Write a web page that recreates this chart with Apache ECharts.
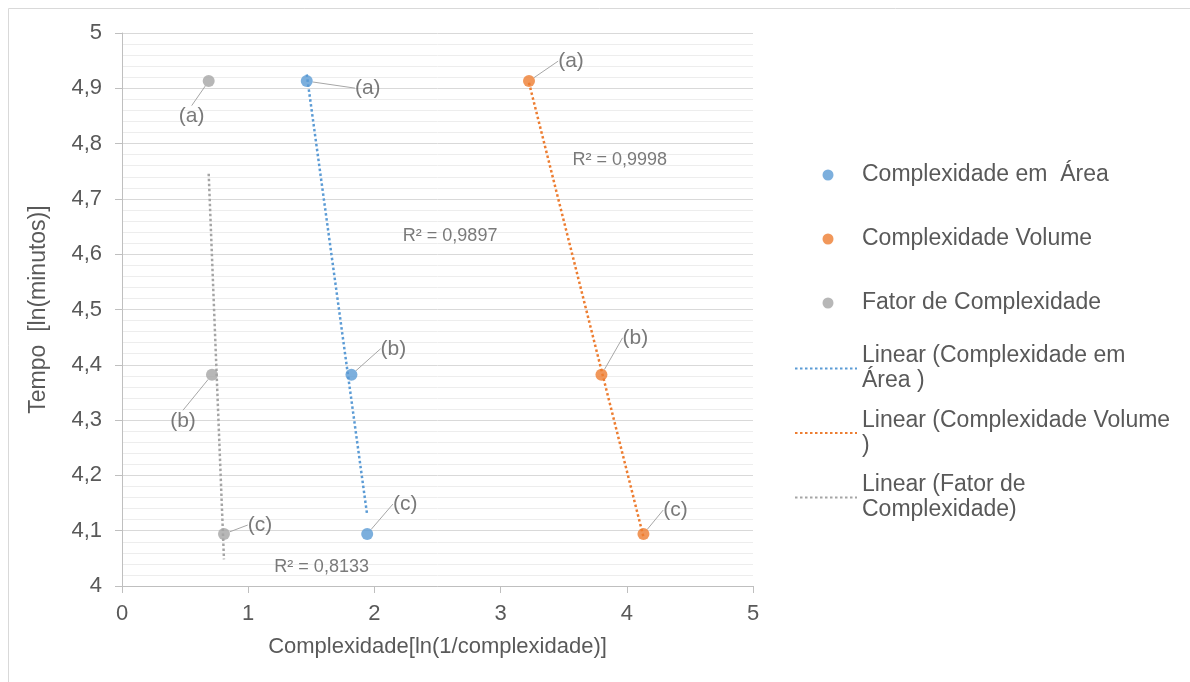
<!DOCTYPE html>
<html>
<head>
    <meta charset="utf-8">
    <title>Tempo x Complexidade</title>
    <script src="https://cdn.jsdelivr.net/npm/echarts@6/dist/echarts.min.js"></script>
    <style type="text/css">
        html, body { margin: 0; padding: 0; background: #fff; }
        #chart { width: 1190px; height: 682px; }
    </style>
</head>
<body>
    <div id="chart"></div>

    <script type="text/javascript">
        // data
        var pointTags = ['(a)', '(b)', '(c)'];
        var tempo = [4.913, 4.382, 4.094];
        var areaX = [1.464, 1.818, 1.943];
        var volumeX = [3.225, 3.799, 4.132];
        var fatorX = [0.687, 0.713, 0.808];
        var r2Values = ['0,9897', '0,9998', '0,8133'];

        // where the R² notes sit (data coords) and how far each tag is pushed (px)
        var r2At = [[2.60, 4.632], [3.944, 4.770], [1.582, 4.034]];
        var tagNudge = {
            area: [[61, 7], [42, -26], [38, -30]],
            volume: [[42, -20], [34, -37], [32, -24]],
            fator: [[-17, 35], [-29, 46], [36, -9]]
        };

        var FONT = "'Liberation Sans', Arial, sans-serif";
        var TXT = '#595959';

        function pairs(xs, ys) {
            var out = [];
            for (var i = 0; i < xs.length; i++) out.push([xs[i], ys[i]]);
            return out;
        }

        // least squares line over the x range of the points, like the Excel trendline
        function trend(xs, ys) {
            var n = xs.length, mx = 0, my = 0, sxy = 0, sxx = 0;
            for (var i = 0; i < n; i++) { mx += xs[i]; my += ys[i]; }
            mx /= n; my /= n;
            for (var j = 0; j < n; j++) {
                sxy += (xs[j] - mx) * (ys[j] - my);
                sxx += (xs[j] - mx) * (xs[j] - mx);
            }
            var b = sxy / sxx, a = my - b * mx;
            var lo = Math.min.apply(null, xs), hi = Math.max.apply(null, xs);
            return [[lo, a + b * lo], [hi, a + b * hi]];
        }

        function pointSeries(name, xs, color, nudge) {
            return {
                name: name,
                type: 'scatter',
                z: 5,
                symbolSize: 12,
                itemStyle: { color: color },
                data: pairs(xs, tempo),
                label: {
                    show: true,
                    position: 'inside',
                    formatter: function (p) { return pointTags[p.dataIndex]; },
                    color: TXT,
                    fontSize: 21,
                    fontFamily: FONT
                },
                labelLine: { show: true, lineStyle: { color: '#A6A6A6', width: 1 } },
                labelLayout: function (p) {
                    var d = nudge[p.dataIndex];
                    return { dx: d[0], dy: d[1] };
                }
            };
        }

        function trendSeries(name, xs, color) {
            return {
                name: name,
                type: 'line',
                z: 3,
                symbol: 'none',
                silent: true,
                lineStyle: { color: color, width: 2.5, type: [2.5, 2.5] },
                itemStyle: { color: color },
                data: trend(xs, tempo)
            };
        }

        var lineNames = {
            'Linear (Complexidade em Área )': 'Linear (Complexidade em\nÁrea )',
            'Linear (Complexidade Volume )': 'Linear (Complexidade Volume\n)',
            'Linear (Fator de Complexidade)': 'Linear (Fator de\nComplexidade)'
        };

        var chart = echarts.init(document.getElementById('chart'));

        var option = {
            animation: false,
            textStyle: { fontFamily: FONT, color: TXT },
            graphic: [{
                type: 'rect',
                shape: { x: 8.5, y: 8.5, width: 1200, height: 700 },
                style: { fill: 'none', stroke: '#D9D9D9', lineWidth: 1 },
                silent: true
            }],
            grid: { left: 122, right: 437, top: 33, bottom: 96 },
            legend: [{
                orient: 'vertical',
                left: 822.5,
                top: 163,
                padding: 0,
                itemWidth: 58,
                itemHeight: 11,
                itemGap: 40,
                icon: 'circle',
                symbolKeepAspect: true,
                selectedMode: false,
                textStyle: { fontSize: 23, lineHeight: 24, color: TXT, fontFamily: FONT },
                data: ['Complexidade em  Área', 'Complexidade Volume', 'Fator de Complexidade']
            }, {
                orient: 'vertical',
                left: 794,
                top: 331,
                padding: 0,
                itemWidth: 62,
                itemHeight: 14,
                itemGap: -10.5,
                itemStyle: { opacity: 0 },
                selectedMode: false,
                formatter: function (n) { return lineNames[n]; },
                textStyle: { fontSize: 23, lineHeight: 25, color: TXT, fontFamily: FONT, padding: [25, 0, 0, 0] },
                data: Object.keys(lineNames)
            }],
            xAxis: {
                type: 'value',
                min: 0,
                max: 5,
                interval: 1,
                name: 'Complexidade[ln(1/complexidade)]',
                nameLocation: 'middle',
                nameGap: 50,
                nameTextStyle: { fontSize: 22, color: TXT, fontFamily: FONT },
                axisLine: { show: true, lineStyle: { color: '#BFBFBF' } },
                axisTick: { show: true, length: 7, lineStyle: { color: '#BFBFBF' } },
                axisLabel: { fontSize: 22, color: TXT, margin: 17 },
                splitLine: { show: false }
            },
            yAxis: {
                type: 'value',
                min: 4,
                max: 5,
                interval: 0.1,
                name: 'Tempo  [ln(minutos)]',
                nameLocation: 'middle',
                nameRotate: 90,
                nameGap: 72,
                nameTextStyle: { fontSize: 23, color: TXT, fontFamily: FONT },
                axisLine: { show: true, lineStyle: { color: '#BFBFBF' } },
                axisTick: { show: true, length: 7, lineStyle: { color: '#BFBFBF' } },
                axisLabel: {
                    fontSize: 22,
                    color: TXT,
                    margin: 20,
                    formatter: function (v) { return String(Number(v.toFixed(1))).replace('.', ','); }
                },
                splitLine: { show: true, lineStyle: { color: '#D9D9D9', width: 1 } },
                minorTick: { show: false, splitNumber: 5 },
                minorSplitLine: { show: true, lineStyle: { color: '#EDEDED', width: 1 } }
            },
            series: [
                trendSeries('Linear (Complexidade em Área )', areaX, '#5B9BD5'),
                trendSeries('Linear (Complexidade Volume )', volumeX, '#ED7D31'),
                trendSeries('Linear (Fator de Complexidade)', fatorX, '#A5A5A5'),
                pointSeries('Complexidade em  Área', areaX, '#5B9BD5', tagNudge.area),
                pointSeries('Complexidade Volume', volumeX, '#ED7D31', tagNudge.volume),
                pointSeries('Fator de Complexidade', fatorX, '#A5A5A5', tagNudge.fator),
                {
                    name: 'R2',
                    type: 'scatter',
                    silent: true,
                    symbolSize: 0,
                    data: r2At,
                    label: {
                        show: true,
                        position: 'inside',
                        formatter: function (p) { return 'R² = ' + r2Values[p.dataIndex]; },
                        color: TXT,
                        fontSize: 18,
                        fontFamily: FONT
                    }
                }
            ]
        };
        chart.setOption(option);
    </script>
</body>
</html>
